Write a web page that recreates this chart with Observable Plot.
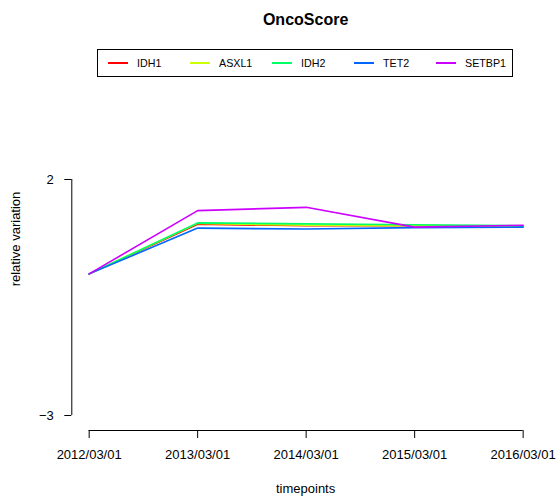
<!DOCTYPE html>
<html>
<head>
<meta charset="utf-8">
<script src="https://cdn.jsdelivr.net/npm/d3@7"></script>
<script src="https://cdn.jsdelivr.net/npm/@observablehq/plot@0.6"></script>
<style>
  html, body { margin: 0; padding: 0; background: #fff; }
  #wrap { position: relative; width: 557px; height: 496px; font-family: "Liberation Sans", Arial, Helvetica, sans-serif; color: #000; }
  #wrap svg { position: absolute; left: 0; top: 0; }
  .ov { position: absolute; white-space: nowrap; line-height: 1; }
</style>
</head>
<body>
<div id="wrap"></div>
<script>
const title = "OncoScore";
const xTitle = "timepoints";
const yTitle = "relative variation";
const timepoints = ["2012/03/01", "2013/03/01", "2014/03/01", "2015/03/01", "2016/03/01"];
const genes = ["IDH1", "ASXL1", "IDH2", "TET2", "SETBP1"];
const colors = ["#FF0000", "#CCFF00", "#00FF66", "#0066FF", "#CC00FF"];
const IDH1   = [0, 1.05, 1.02, 1.02, 1.01];
const ASXL1  = [0, 1.07, 1.03, 1.02, 1.01];
const IDH2   = [0, 1.08, 1.06, 1.04, 1.02];
const TET2   = [0, 0.97, 0.95, 0.98, 0.99];
const SETBP1 = [0, 1.34, 1.41, 0.99, 1.03];
const yTicks = [-3, 2];

const seriesValues = [IDH1, ASXL1, IDH2, TET2, SETBP1];
const rows = [];
genes.forEach((g, gi) => seriesValues[gi].forEach((v, i) => rows.push({gene: g, t: i, v})));

const xIdx = timepoints.map((_, i) => i);
const xDomain = [-0.16, timepoints.length - 1 + 0.16];
const yDomain = [-3.318, 4.614];

const chart = Plot.plot({
  width: 557,
  height: 496,
  marginLeft: 71.3,
  marginRight: 17,
  marginTop: 55.6,
  marginBottom: 66,
  style: {fontFamily: "'Liberation Sans', Arial, Helvetica, sans-serif", fontSize: "13px", color: "#000", background: "transparent"},
  x: {domain: xDomain, label: null},
  y: {domain: yDomain, label: null},
  color: {domain: genes, range: colors},
  marks: [
    Plot.ruleY([yDomain[0]], {x1: xIdx[0], x2: xIdx[xIdx.length - 1], stroke: "#000", strokeWidth: 1}),
    Plot.ruleX([xDomain[0]], {y1: yTicks[0], y2: yTicks[yTicks.length - 1], stroke: "#000", strokeWidth: 1}),
    Plot.axisX({ticks: xIdx, tickFormat: i => timepoints[i], tickSize: 8, tickPadding: 11, fontSize: 13, label: null, stroke: "#000"}),
    Plot.axisY({ticks: yTicks, tickSize: 7, tickPadding: 11, fontSize: 13, label: null, stroke: "#000"}),
    Plot.line(rows, {x: "t", y: "v", z: "gene", stroke: "gene", strokeWidth: 1.6})
  ]
});

const wrap = document.getElementById("wrap");
wrap.appendChild(chart);

function ov(text, css) {
  const d = document.createElement("div");
  d.className = "ov";
  d.textContent = text;
  Object.assign(d.style, css);
  wrap.appendChild(d);
  return d;
}
ov(title, {left: "305.6px", top: "19.5px", transform: "translate(-50%,-50%)", fontWeight: "bold", fontSize: "16px"});
ov(xTitle, {left: "305.6px", top: "488px", transform: "translate(-50%,-50%)", fontSize: "13px"});
ov(yTitle, {left: "15px", top: "238.5px", transform: "translate(-50%,-50%) rotate(-90deg)", fontSize: "13px"});

// legend
const leg = document.createElement("div");
Object.assign(leg.style, {position: "absolute", left: "97px", top: "49px", width: "416px", height: "28px", border: "1px solid #000", boxSizing: "border-box", background: "#fff"});
wrap.appendChild(leg);
genes.forEach((g, i) => {
  const lx = 107 + i * 82 - 97;
  const sw = document.createElement("div");
  Object.assign(sw.style, {position: "absolute", left: lx + "px", top: "12px", width: "20px", height: "2px", background: colors[i]});
  leg.appendChild(sw);
  const tx = document.createElement("div");
  tx.className = "ov";
  tx.textContent = g;
  Object.assign(tx.style, {left: (lx + 29) + "px", top: "13px", transform: "translateY(-50%)", fontSize: "10.7px"});
  leg.appendChild(tx);
});
</script>
</body>
</html>
